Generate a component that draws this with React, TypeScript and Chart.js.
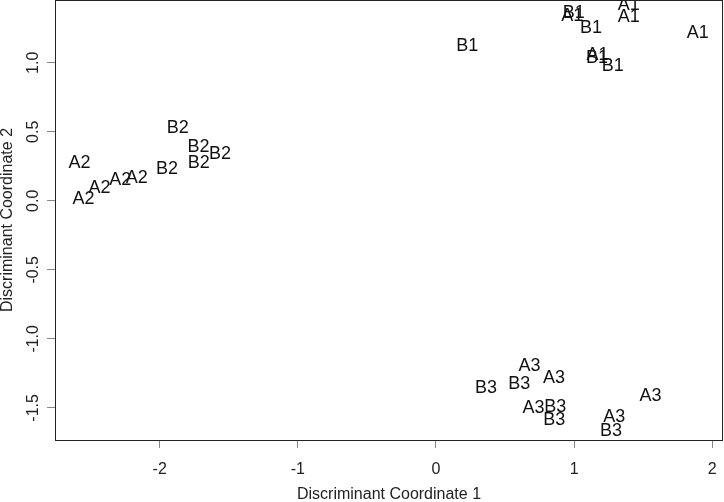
import React, { useEffect, useRef } from "react";
import { Chart, registerables } from "chart.js";

Chart.register(...registerables);

const GROUPS = ["A1", "B1", "A2", "B2", "A3", "B3"];

const A1_X = [0.986, 1.396, 1.396, 1.896, 1.169];
const A1_Y = [1.338, 1.422, 1.330, 1.217, 1.053];
const B1_X = [0.226, 0.997, 1.123, 1.165, 1.280];
const B1_Y = [1.120, 1.362, 1.249, 1.038, 0.975];
const A2_X = [-2.580, -2.551, -2.435, -2.285, -2.167];
const A2_Y = [0.275, 0.012, 0.096, 0.149, 0.162];
const B2_X = [-1.869, -1.947, -1.719, -1.717, -1.563];
const B2_Y = [0.529, 0.227, 0.391, 0.275, 0.336];
const A3_X = [0.678, 0.855, 0.707, 1.553, 1.290];
const A3_Y = [-1.199, -1.283, -1.500, -1.416, -1.563];
const B3_X = [0.362, 0.603, 0.864, 0.857, 1.268];
const B3_Y = [-1.355, -1.331, -1.491, -1.587, -1.670];

const SERIES_X = [A1_X, B1_X, A2_X, B2_X, A3_X, B3_X];
const SERIES_Y = [A1_Y, B1_Y, A2_Y, B2_Y, A3_Y, B3_Y];

const X_TICKS = [-2, -1, 0, 1, 2];
const Y_TICKS = [-1.5, -1.0, -0.5, 0.0, 0.5, 1.0];
const X_MIN = -2.758;
const X_MAX = 2.078;
const Y_MIN = -1.733;
const Y_MAX = 1.455;

const X_TITLE = "Discriminant Coordinate 1";
const Y_TITLE = "Discriminant Coordinate 2";

const FONT = "'Liberation Sans', Arial, Helvetica, sans-serif";

const textLabels = {
  id: "textLabels",
  afterDatasetsDraw(chart: any) {
    const { ctx, chartArea } = chart;
    ctx.save();
    ctx.beginPath();
    ctx.rect(chartArea.left, chartArea.top, chartArea.right - chartArea.left, chartArea.bottom - chartArea.top);
    ctx.clip();
    ctx.font = `18px ${FONT}`;
    ctx.fillStyle = "#111";
    ctx.textAlign = "center";
    ctx.textBaseline = "middle";
    chart.data.datasets.forEach((ds: any, i: number) => {
      const meta = chart.getDatasetMeta(i);
      meta.data.forEach((el: any) => {
        ctx.fillText(ds.label, el.x, el.y);
      });
    });
    ctx.restore();
  },
};

const boxPlugin = {
  id: "boxPlugin",
  afterDraw(chart: any) {
    const { ctx, chartArea } = chart;
    ctx.save();
    ctx.strokeStyle = "#222";
    ctx.lineWidth = 1;
    ctx.strokeRect(chartArea.left + 0.5, chartArea.top + 0.5, chartArea.right - chartArea.left - 1, chartArea.bottom - chartArea.top);
    ctx.restore();
  },
};

export default function App() {
  const ref = useRef<HTMLCanvasElement>(null);
  useEffect(() => {
    if (!ref.current) return;
    Chart.defaults.font.family = FONT;
    const datasets = GROUPS.map((g, i) => ({
      label: g,
      data: SERIES_X[i].map((x, j) => ({ x, y: SERIES_Y[i][j] })),
      pointRadius: 0,
      pointHoverRadius: 0,
      showLine: false,
    }));
    const chart = new Chart(ref.current, {
      type: "scatter",
      data: { datasets },
      options: {
        animation: false,
        responsive: false,
        devicePixelRatio: 1,
        events: [],
        layout: { padding: { top: 0, right: 1, bottom: 0, left: 0 } },
        plugins: { legend: { display: false }, tooltip: { enabled: false } },
        scales: {
          x: {
            type: "linear",
            min: X_MIN,
            max: X_MAX,
            afterBuildTicks: (s: any) => {
              s.ticks = X_TICKS.map((v) => ({ value: v }));
            },
            afterFit: (s: any) => {
              s.height = 62;
              s.paddingLeft = 0;
              s.paddingRight = 0;
            },
            border: { display: false },
            grid: { drawOnChartArea: false, drawTicks: true, tickLength: 8, color: "#888", tickColor: "#888" },
            ticks: {
              autoSkip: false,
              maxRotation: 0,
              padding: 12,
              color: "#222",
              font: { size: 16 },
              callback: (v: any) => String(v),
            },
            title: {
              display: true,
              text: X_TITLE,
              color: "#222",
              font: { size: 16, lineHeight: 0.875 },
              padding: 0,
            },
          },
          y: {
            type: "linear",
            min: Y_MIN,
            max: Y_MAX,
            afterBuildTicks: (s: any) => {
              s.ticks = Y_TICKS.map((v) => ({ value: v }));
            },
            afterFit: (s: any) => {
              s.width = 55;
              s.paddingTop = 0;
              s.paddingBottom = 0;
            },
            border: { display: false },
            grid: { drawOnChartArea: false, drawTicks: true, tickLength: 8, color: "#888", tickColor: "#888" },
            ticks: {
              autoSkip: false,
              minRotation: 90,
              maxRotation: 90,
              crossAlign: "center",
              padding: 0,
              color: "#222",
              font: { size: 16 },
              callback: (v: any) => Number(v).toFixed(1),
            },
            title: {
              display: true,
              text: Y_TITLE,
              color: "#222",
              font: { size: 16, lineHeight: 1 },
              padding: 0,
            },
          },
        },
      },
      plugins: [textLabels, boxPlugin],
    });
    return () => chart.destroy();
  }, []);
  return (
    <div style={{ position: "fixed", left: 0, top: 0, width: 724, height: 502, background: "#fff" }}>
      <canvas ref={ref} width={724} height={502} style={{ display: "block" }} />
    </div>
  );
}
